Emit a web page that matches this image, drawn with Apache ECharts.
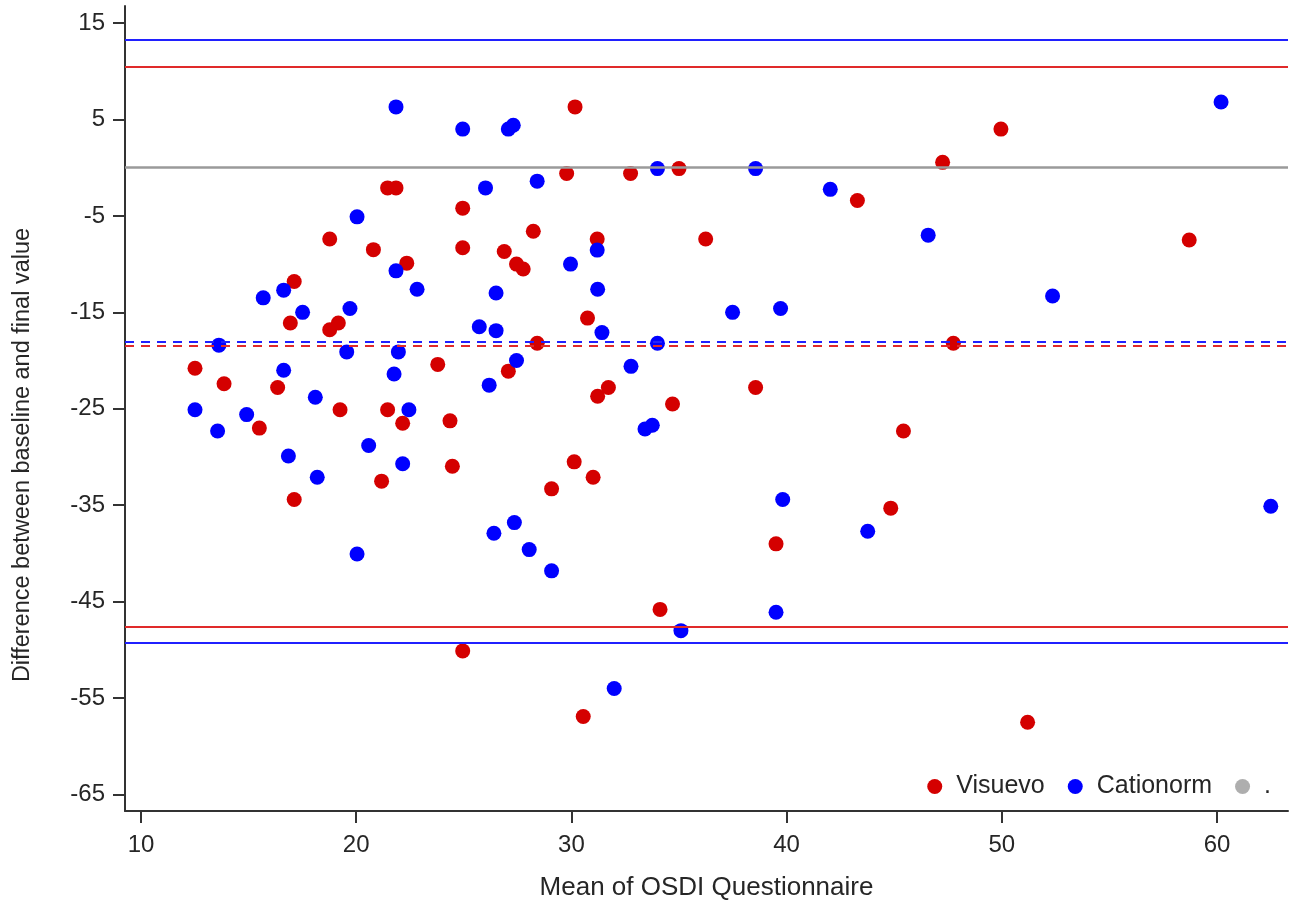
<!DOCTYPE html>
<html>
<head>
<meta charset="utf-8">
<script src="https://cdn.jsdelivr.net/npm/echarts@6/dist/echarts.min.js"></script>
<style>html,body{margin:0;padding:0;background:#fff}#c{width:1291px;height:907px}</style>
</head>
<body>
<div id="c"></div>
<script>
const xTicks = [10, 20, 30, 40, 50, 60];
const yTicks = [15, 5, -5, -15, -25, -35, -45, -55, -65];
const seriesNames = ['Visuevo', 'Cationorm', '.'];
const xTitle = 'Mean of OSDI Questionnaire';
const yTitle = 'Difference between baseline and final value';

const visuevo = [
  [21.46,-2.1],[21.85,-2.1],[18.77,-7.4],[20.80,-8.5],[22.35,-9.9],[17.12,-11.8],
  [16.94,-16.1],[18.77,-16.8],[19.17,-16.1],[12.51,-20.8],[23.79,-20.4],[13.86,-22.4],
  [16.35,-22.8],[19.25,-25.1],[21.46,-25.1],[22.16,-26.5],[24.36,-26.25],[15.50,-27.0],
  [24.47,-30.95],[21.18,-32.5],[17.12,-34.4],[30.17,6.3],[29.78,-0.6],[32.75,-0.6],
  [35.0,-0.1],[24.95,-4.2],[28.23,-6.6],[31.20,-7.4],[36.24,-7.4],[24.95,-8.3],
  [26.88,-8.7],[27.45,-10.0],[27.76,-10.5],[30.75,-15.6],[28.41,-18.2],[27.07,-21.1],
  [31.72,-22.8],[31.22,-23.7],[38.56,-22.8],[34.70,-24.5],[30.13,-30.5],[31.01,-32.1],
  [29.08,-33.3],[39.51,-39.0],[34.12,-45.8],[24.95,-50.1],[30.55,-56.9],[49.96,4.0],
  [47.25,0.55],[43.29,-3.4],[58.71,-7.5],[47.75,-18.2],[45.43,-27.3],[44.84,-35.3],
  [51.20,-57.5]
];
const cationorm = [
  [21.85,6.3],[20.04,-5.1],[21.85,-10.7],[22.83,-12.6],[16.63,-12.7],[15.68,-13.5],
  [17.51,-15.0],[19.71,-14.6],[13.62,-18.4],[19.56,-19.1],[21.96,-19.1],[16.63,-21.0],
  [21.76,-21.4],[18.10,-23.8],[12.51,-25.1],[22.45,-25.1],[14.91,-25.6],[13.56,-27.3],
  [20.58,-28.8],[16.85,-29.9],[22.16,-30.7],[18.19,-32.1],[20.04,-40.05],[24.95,4.0],
  [27.07,4.0],[27.30,4.4],[34.0,-0.1],[38.56,-0.1],[42.03,-2.25],[26.01,-2.1],
  [28.41,-1.4],[31.20,-8.55],[29.96,-10.0],[26.50,-13.0],[31.22,-12.6],[37.49,-15.0],
  [39.72,-14.6],[25.72,-16.5],[26.50,-16.9],[31.42,-17.1],[34.0,-18.2],[27.45,-20.0],
  [32.77,-20.6],[26.18,-22.55],[33.42,-27.1],[33.76,-26.7],[39.82,-34.4],[26.40,-37.9],
  [27.35,-36.8],[28.04,-39.6],[29.08,-41.8],[39.51,-46.1],[35.09,-48.0],[31.99,-54.0],
  [60.19,6.8],[46.58,-7.0],[52.36,-13.3],[43.77,-37.7],[62.50,-35.1]
];
const visuevoMean = -18.47;
const visuevoLimits = [10.47, -47.55];
const cationormMean = -18.06;
const cationormLimits = [13.24, -49.27];
const zeroLine = 0;

const RED = '#d40000', BLUE = '#0000ff', GRAY = '#9a9a9a';
const RED_LINE = '#e02a2a', BLUE_LINE = '#2020ff';
const FONT = 'Liberation Sans, Arial, sans-serif';
const TXT = '#262626';

function ml(v, color, dashed) {
  return { yAxis: v, lineStyle: { color: color, width: 2, type: dashed ? [9, 7] : 'solid' } };
}

const chart = echarts.init(document.getElementById('c'), null, { renderer: 'canvas' });
chart.setOption({
  animation: false,
  backgroundColor: '#fff',
  grid: { left: 125, right: 3, top: 6, bottom: 96 },
  xAxis: {
    type: 'value', min: 9.257, max: 63.3,
    name: xTitle, nameLocation: 'middle', nameGap: 64,
    nameTextStyle: { fontFamily: FONT, fontSize: 26, color: TXT },
    axisLine: { show: true, onZero: false, lineStyle: { color: '#333', width: 2 } },
    axisTick: { show: true, length: 12, lineStyle: { color: '#333', width: 2 }, customValues: xTicks },
    axisLabel: { fontFamily: FONT, fontSize: 24, color: TXT, margin: 22, customValues: xTicks },
    splitLine: { show: false }
  },
  yAxis: {
    type: 'value', min: -66.7, max: 16.76,
    axisLine: { show: true, onZero: false, lineStyle: { color: '#333', width: 2 } },
    axisTick: { show: true, length: 12, lineStyle: { color: '#333', width: 2 }, customValues: yTicks },
    axisLabel: { fontFamily: FONT, fontSize: 24, color: TXT, margin: 20, customValues: yTicks },
    splitLine: { show: false }
  },
  legend: {
    data: seriesNames.map(n => ({ name: n, icon: 'circle' })),
    right: 20, top: 774, padding: 0,
    itemWidth: 15, itemHeight: 15, itemGap: 23,
    textStyle: { fontFamily: FONT, fontSize: 25, color: TXT, padding: [0, 0, 0, 9] },
    selectedMode: false
  },
  graphic: [{
    type: 'text', x: 22.5, y: 455, rotation: Math.PI / 2,
    style: { text: yTitle, fontFamily: FONT, fontSize: 23.5, fill: TXT, align: 'center', verticalAlign: 'middle' }
  }],
  series: [
    {
      name: seriesNames[0], type: 'scatter', data: visuevo, symbol: 'circle', symbolSize: 15,
      itemStyle: { color: RED, opacity: 1 }, z: 3,
      markLine: {
        silent: true, symbol: 'none', label: { show: false }, animation: false,
        data: [ml(visuevoLimits[0], RED_LINE, false), ml(visuevoLimits[1], RED_LINE, false),
               ml(visuevoMean, RED_LINE, true),
               { yAxis: zeroLine, lineStyle: { color: GRAY, width: 2.5, type: 'solid' } }]
      }
    },
    {
      name: seriesNames[1], type: 'scatter', data: cationorm, symbol: 'circle', symbolSize: 15,
      itemStyle: { color: BLUE, opacity: 1 }, z: 3,
      markLine: {
        silent: true, symbol: 'none', label: { show: false }, animation: false,
        data: [ml(cationormLimits[0], BLUE_LINE, false), ml(cationormLimits[1], BLUE_LINE, false),
               ml(cationormMean, BLUE_LINE, true)]
      }
    },
    {
      name: seriesNames[2], type: 'scatter', data: [], symbol: 'circle', symbolSize: 15,
      itemStyle: { color: GRAY }
    }
  ]
});
</script>
</body>
</html>
